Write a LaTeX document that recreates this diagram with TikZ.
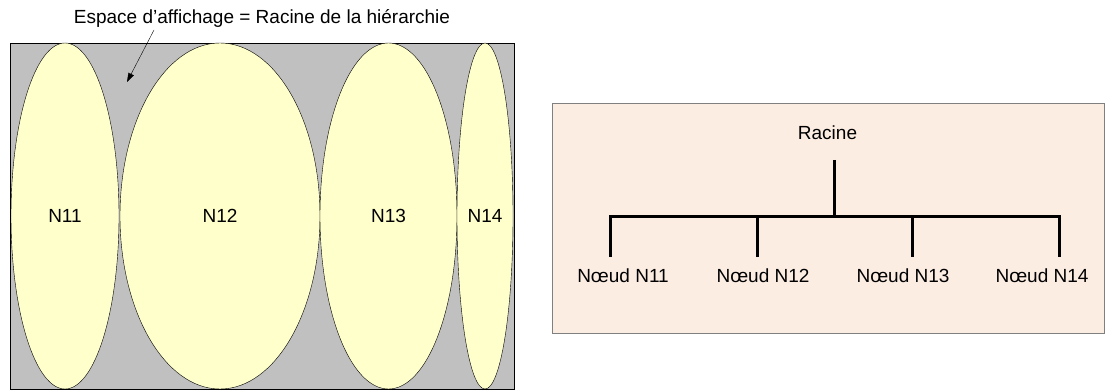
\documentclass[tikz,border=0pt]{standalone}
\usepackage{fontspec}
\setmainfont{Liberation Sans}
\usetikzlibrary{shapes.geometric, arrows.meta}

\definecolor{fondgris}{HTML}{C0C0C0}
\definecolor{jaunepale}{HTML}{FFFFCC}
\definecolor{peche}{HTML}{FCEDE3}

\begin{document}
\begin{tikzpicture}[x=1pt, y=-1pt, font=\fontsize{19}{22}\selectfont,
        noeud/.style={ellipse, draw, thin, fill=jaunepale, inner sep=0pt}]
                \useasboundingbox (0,0) rectangle (1106,390);

                % espace d'affichage
                \node (titre) at (262,18) {Espace d’affichage = Racine de la hiérarchie};
                \draw[fill=fondgris, thin] (10,43) rectangle (514,389);

                \node[noeud, minimum width=108pt, minimum height=346pt] (n11) at (65,216) {N11};
                \node[noeud, minimum width=200pt, minimum height=346pt] (n12) at (220,216) {N12};
                \node[noeud, minimum width=137pt, minimum height=346pt] (n13) at (388.5,216) {N13};
                \node[noeud, minimum width=56pt, minimum height=346pt] (n14) at (485,216) {N14};

                \coordinate (depart) at (154,30);
                \coordinate (pointe) at (127,82);
                \draw[-{Triangle[length=9pt, width=6pt]}] (depart) -- (pointe);

                % hierarchie
                \draw[draw=gray, fill=peche] (552,103) rectangle (1104,333);

                \node (racine) at (827.5,133) {Racine};
                \node (c11) at (623,276) {Nœud N11};
                \node (c12) at (763,276) {Nœud N12};
                \node (c13) at (903,276) {Nœud N13};
                \node (c14) at (1042,276) {Nœud N14};

                \coordinate (haut) at (834,160);
                \coordinate (fourche) at (834,217);
                \coordinate (d11) at (610,257);
                \coordinate (d12) at (757,257);
                \coordinate (d13) at (912,257);
                \coordinate (d14) at (1059,257);

                \draw[line width=3pt] (haut) -- (fourche);
                \draw[line width=3pt] (d11) -- (d11 |- fourche) -- (d14 |- fourche) -- (d14);
                \draw[line width=3pt] (d12) -- (d12 |- fourche);
                \draw[line width=3pt] (d13) -- (d13 |- fourche);

            \end{tikzpicture}
\end{document}
